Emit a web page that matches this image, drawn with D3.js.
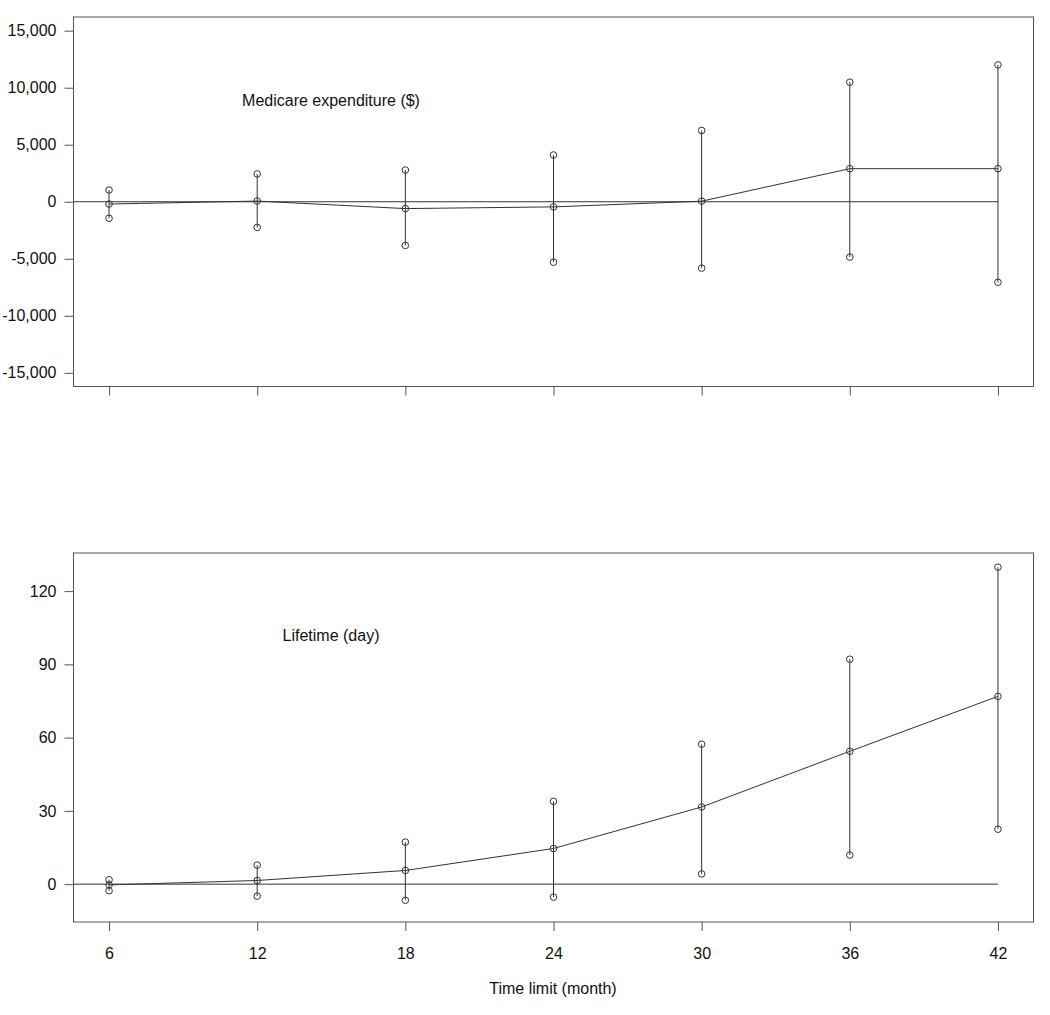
<!DOCTYPE html>
<html><head><meta charset="utf-8">
<script src="https://cdn.jsdelivr.net/npm/d3@7/dist/d3.min.js"></script>
<style>body{margin:0;background:#fff}svg{display:block}text{font-family:"Liberation Sans",Arial,sans-serif;fill:#111}</style>
</head><body>
<script>
const months = [6, 12, 18, 24, 30, 36, 42];
const costEst   = [-200, 60, -600, -450, 50, 2900, 2900];
const costLower = [-1450, -2250, -3830, -5300, -5820, -4850, -7060];
const costUpper = [1030, 2440, 2780, 4100, 6250, 10480, 12000];
const lifeEst   = [-0.3, 1.5, 5.6, 14.6, 31.6, 54.4, 76.9];
const lifeLower = [-2.7, -4.9, -6.6, -5.3, 4.2, 11.9, 22.5];
const lifeUpper = [1.8, 7.8, 17.2, 33.9, 57.3, 92.1, 129.8];
const costTicks = [-15000, -10000, -5000, 0, 5000, 10000, 15000];
const lifeTicks = [0, 30, 60, 90, 120];

const loc = d3.formatLocale({decimal: ".", thousands: ",", grouping: [3], currency: ["$", ""], minus: "-"});

const W = 1050, H = 1015;
const svg = d3.select("body").append("svg").attr("width", W).attr("height", H);
const x = d3.scaleLinear().domain([4.56, 43.44]).range([73.5, 1033.5]);
const stroke = "#333";

function panel(top, bottom, domain, ticks, fmt, est, lo, hi, label, labelY, showXLabels) {
  const y = d3.scaleLinear().domain(domain).range([bottom, top]);
  const g = svg.append("g");
  g.append("rect").attr("x", 73.5).attr("y", top).attr("width", 960).attr("height", bottom - top)
    .attr("fill", "none").attr("stroke", "#555").attr("stroke-width", 1);
  const ya = g.append("g").attr("transform", "translate(73.5,0)")
    .call(d3.axisLeft(y).tickValues(ticks).tickFormat(fmt).tickSize(9).tickPadding(8));
  ya.select(".domain").remove();
  ya.selectAll("line").attr("stroke", "#555");
  ya.selectAll("text").style("font-size", "16px").attr("fill", "#111");
  const xa = g.append("g").attr("transform", `translate(0,${bottom})`)
    .call(d3.axisBottom(x).tickValues(months).tickSize(9).tickPadding(17).tickFormat(showXLabels ? loc.format("d") : () => ""));
  xa.select(".domain").remove();
  xa.selectAll("line").attr("stroke", "#555");
  xa.selectAll("text").style("font-size", "16px").attr("fill", "#111");
  g.append("line").attr("x1", 73.5).attr("x2", x(42)).attr("y1", y(0)).attr("y2", y(0))
    .attr("stroke", stroke).attr("stroke-width", 1);
  g.selectAll(".eb").data(months).enter().append("line")
    .attr("x1", d => x(d)).attr("x2", d => x(d))
    .attr("y1", (d, i) => y(lo[i])).attr("y2", (d, i) => y(hi[i]))
    .attr("stroke", stroke).attr("stroke-width", 1);
  g.append("path").datum(months)
    .attr("d", d3.line().x(d => x(d)).y((d, i) => y(est[i])))
    .attr("fill", "none").attr("stroke", stroke).attr("stroke-width", 1);
  const pts = [];
  months.forEach((m, i) => { pts.push([m, est[i]], [m, lo[i]], [m, hi[i]]); });
  g.selectAll(".pt").data(pts).enter().append("circle")
    .attr("cx", d => x(d[0])).attr("cy", d => y(d[1])).attr("r", 3.3)
    .attr("fill", "none").attr("stroke", stroke).attr("stroke-width", 1);
  g.append("text").attr("x", 331).attr("y", labelY).attr("text-anchor", "middle")
    .style("font-size", "16px").text(label);
}

panel(17, 386.5, [-16200, 16200], costTicks, loc.format(","), costEst, costLower, costUpper,
      "Medicare expenditure ($)", 106, false);
panel(553, 922, [-15.5, 135.6], lifeTicks, loc.format("d"), lifeEst, lifeLower, lifeUpper,
      "Lifetime (day)", 641, true);

svg.append("text").attr("x", 553).attr("y", 994).attr("text-anchor", "middle")
  .style("font-size", "16px").text("Time limit (month)");
</script>
</body></html>
